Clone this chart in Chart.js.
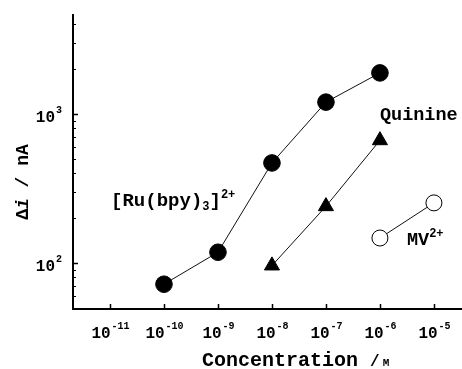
<!DOCTYPE html>
<html>
<head>
<meta charset="utf-8">
<script src="https://cdn.jsdelivr.net/npm/chart.js@4"></script>
<style>
  html, body { margin: 0; padding: 0; background: #fff; }
  canvas { display: block; }
</style>
</head>
<body>
<canvas id="chart" width="462" height="369"></canvas>
<script>
// data (concentration in M, current in nA)
const ruConc = [1e-10, 1e-9, 1e-8, 1e-7, 1e-6];
const ruCurrent = [72, 118, 469, 1200, 1885];
const quinineConc = [1e-8, 1e-7, 1e-6];
const quinineCurrent = [96, 240, 665];
const mvConc = [1e-6, 1e-5];
const mvCurrent = [147, 253];

// tick labels (exponents of 10)
const xTickExps = [-11, -10, -9, -8, -7, -6, -5];
const yTickExps = [2, 3];
const yMinorTicks = [50, 60, 70, 80, 90, 200, 300, 400, 500, 600, 700, 800, 900, 2000, 3000, 4000];

const FONT = '"Liberation Mono", "DejaVu Sans Mono", monospace';

function pts(xs, ys) {
  return xs.map((x, i) => ({ x: x, y: ys[i] }));
}

// writes 10^n; align 'center' or 'right'
function drawPow(ctx, exp, x, y, align, big, small) {
  ctx.font = 'bold ' + big + 'px ' + FONT;
  const wBase = ctx.measureText('10').width;
  ctx.font = 'bold ' + small + 'px ' + FONT;
  const sup = String(exp);
  const wSup = ctx.measureText(sup).width;
  const total = wBase + wSup + 1;
  let left = align === 'right' ? x - total : x - total / 2;
  ctx.textAlign = 'left';
  ctx.textBaseline = 'alphabetic';
  ctx.font = 'bold ' + big + 'px ' + FONT;
  ctx.fillText('10', left, y);
  ctx.font = 'bold ' + small + 'px ' + FONT;
  ctx.fillText(sup, left + wBase + 1, y - big * 0.55);
}

// draw a run of pieces [text, size, dy, italic]
function drawRich(ctx, pieces, x, y) {
  let cx = x;
  ctx.textAlign = 'left';
  ctx.textBaseline = 'alphabetic';
  pieces.forEach(p => {
    ctx.font = (p[3] ? 'italic ' : '') + 'bold ' + p[1] + 'px ' + FONT;
    ctx.fillText(p[0], cx, y + (p[2] || 0));
    cx += ctx.measureText(p[0]).width;
  });
  return cx - x;
}

function richWidth(ctx, pieces) {
  let w = 0;
  pieces.forEach(p => {
    ctx.font = (p[3] ? 'italic ' : '') + 'bold ' + p[1] + 'px ' + FONT;
    w += ctx.measureText(p[0]).width;
  });
  return w;
}

const axisDecor = {
  id: 'axisDecor',
  afterDraw(chart) {
    const ctx = chart.ctx;
    const xs = chart.scales.x;
    const ys = chart.scales.y;
    const area = chart.chartArea;
    ctx.save();
    ctx.fillStyle = '#000';
    ctx.strokeStyle = '#000';
    ctx.lineWidth = 1.5;

    // x ticks, pointing inward
    xTickExps.forEach(e => {
      const px = Math.round(xs.getPixelForValue(Math.pow(10, e))) + 0.5;
      ctx.beginPath();
      ctx.moveTo(px, area.bottom);
      ctx.lineTo(px, area.bottom - 5);
      ctx.stroke();
      drawPow(ctx, e, px, area.bottom + 29, 'center', 16, 10);
    });

    // y ticks
    yTickExps.forEach(e => {
      const py = Math.round(ys.getPixelForValue(Math.pow(10, e))) + 0.5;
      ctx.beginPath();
      ctx.moveTo(area.left, py);
      ctx.lineTo(area.left + 5, py);
      ctx.stroke();
      drawPow(ctx, e, area.left - 11, py + 7, 'right', 16, 10);
    });
    ctx.lineWidth = 1;
    yMinorTicks.forEach(v => {
      const py = Math.round(ys.getPixelForValue(v)) + 0.5;
      ctx.beginPath();
      ctx.moveTo(area.left, py);
      ctx.lineTo(area.left + 3, py);
      ctx.stroke();
    });

    // x title
    drawRich(ctx, [['Concentration ', 20], ['/', 16], [' ', 5], ['M', 11]], area.left + 129, 366);

    // y title, rotated
    const yt = [['\u0394', 18], ['i', 18, 0, true], [' / nA', 18]];
    const yw = richWidth(ctx, yt);
    ctx.save();
    ctx.translate(28, 182);
    ctx.rotate(-Math.PI / 2);
    drawRich(ctx, yt, -yw / 2, 0);
    ctx.restore();

    // series labels, anchored in data space
    drawRich(ctx, [['[Ru(bpy)', 19], ['3', 12, 4], [']', 19], ['2+', 12, -8]],
      xs.getPixelForValue(Math.pow(10, -10.98)), ys.getPixelForValue(240));
    drawRich(ctx, [['Quinine', 18.5]],
      xs.getPixelForValue(1e-6), ys.getPixelForValue(910));
    drawRich(ctx, [['MV', 18.5], ['2+', 12, -8]],
      xs.getPixelForValue(Math.pow(10, -5.5)), ys.getPixelForValue(131));

    ctx.restore();
  }
};

const ctx = document.getElementById('chart').getContext('2d');
new Chart(ctx, {
  type: 'scatter',
  data: {
    datasets: [
      {
        label: '[Ru(bpy)3]2+',
        data: pts(ruConc, ruCurrent),
        showLine: true,
        borderColor: '#111',
        borderWidth: 1,
        pointStyle: 'circle',
        pointRadius: 8.3,
        pointBackgroundColor: '#000',
        pointBorderColor: '#000',
        pointBorderWidth: 1
      },
      {
        label: 'Quinine',
        data: pts(quinineConc, quinineCurrent),
        showLine: true,
        borderColor: '#111',
        borderWidth: 1,
        pointStyle: 'triangle',
        pointRadius: 8.7,
        pointBackgroundColor: '#000',
        pointBorderColor: '#000',
        pointBorderWidth: 1
      },
      {
        label: 'MV2+',
        data: pts(mvConc, mvCurrent),
        showLine: true,
        borderColor: '#111',
        borderWidth: 1,
        pointStyle: 'circle',
        pointRadius: 8,
        pointBackgroundColor: '#fff',
        pointBorderColor: '#000',
        pointBorderWidth: 1
      }
    ]
  },
  options: {
    responsive: false,
    animation: false,
    layout: { autoPadding: false, padding: { left: 73, top: 15, right: 0, bottom: 60 } },
    plugins: {
      legend: { display: false },
      tooltip: { enabled: false }
    },
    scales: {
      x: {
        type: 'logarithmic',
        min: Math.pow(10, -11.685),
        max: Math.pow(10, -4.48),
        ticks: { display: false },
        grid: { display: false, drawTicks: false },
        border: { display: true, color: '#000', width: 2 }
      },
      y: {
        type: 'logarithmic',
        min: Math.pow(10, 1.691),
        max: Math.pow(10, 3.664),
        ticks: { display: false },
        grid: { display: false, drawTicks: false },
        border: { display: true, color: '#000', width: 2 }
      }
    }
  },
  plugins: [axisDecor]
});
</script>
</body>
</html>
